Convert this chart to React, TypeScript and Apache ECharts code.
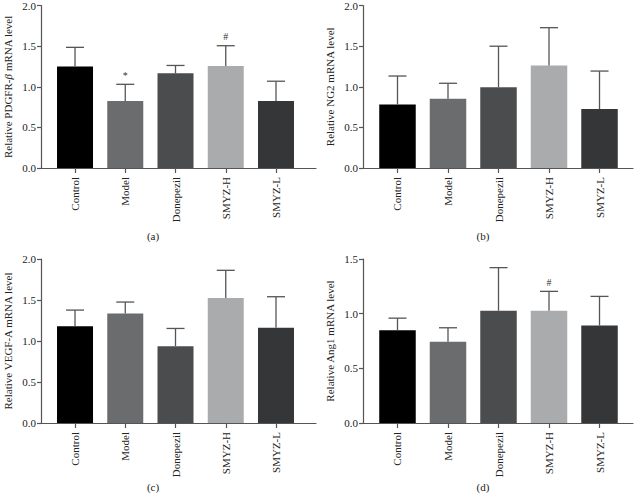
import React, { useEffect, useRef } from "react";
import * as echarts from "echarts";

const categories = ["Control", "Model", "Donepezil", "SMYZ-H", "SMYZ-L"];
const barColors = ["#000000", "#6a6c6e", "#4b4c4e", "#aaabad", "#353638"];

const pdgfrMean = [1.25, 0.825, 1.165, 1.255, 0.825];
const pdgfrTop = [1.485, 1.03, 1.262, 1.505, 1.068];
const pdgfrMarks = ["", "*", "", "#", ""];

const ng2Mean = [0.782, 0.851, 0.994, 1.263, 0.725];
const ng2Top = [1.132, 1.043, 1.499, 1.727, 1.193];
const ng2Marks = ["", "", "", "", ""];

const vegfMean = [1.181, 1.336, 0.937, 1.523, 1.161];
const vegfTop = [1.377, 1.475, 1.153, 1.862, 1.54];
const vegfMarks = ["", "", "", "", ""];

const ang1Mean = [0.849, 0.742, 1.027, 1.027, 0.892];
const ang1Top = [0.959, 0.871, 1.421, 1.204, 1.158];
const ang1Marks = ["", "", "", "#", ""];

const FONT = "Liberation Serif";

type Panel = {
  name: string;
  mean: number[];
  top: number[];
  marks: string[];
  yMax: number;
  grid: { left: number; width: number; top: number; height: number };
  xMin: number;
  xMax: number;
  label: string;
  labelPos: [number, number];
};

const panels: Panel[] = [
  {
    name: "Relative PDGFR-{i|β} mRNA level",
    mean: pdgfrMean,
    top: pdgfrTop,
    marks: pdgfrMarks,
    yMax: 2,
    grid: { left: 41, width: 275, top: 4, height: 164 },
    xMin: -0.677,
    xMax: 4.796,
    label: "(a)",
    labelPos: [153, 236],
  },
  {
    name: "Relative NG2 mRNA level",
    mean: ng2Mean,
    top: ng2Top,
    marks: ng2Marks,
    yMax: 2,
    grid: { left: 363, width: 270, top: 4, height: 164 },
    xMin: -0.683,
    xMax: 4.663,
    label: "(b)",
    labelPos: [483, 236],
  },
  {
    name: "Relative VEGF-A mRNA level",
    mean: vegfMean,
    top: vegfTop,
    marks: vegfMarks,
    yMax: 2,
    grid: { left: 41, width: 275, top: 259, height: 164 },
    xMin: -0.677,
    xMax: 4.796,
    label: "(c)",
    labelPos: [153, 487],
  },
  {
    name: "Relative Ang1 mRNA level",
    mean: ang1Mean,
    top: ang1Top,
    marks: ang1Marks,
    yMax: 1.5,
    grid: { left: 363, width: 270, top: 259, height: 164 },
    xMin: -0.683,
    xMax: 4.663,
    label: "(d)",
    labelPos: [483, 487],
  },
];

export default function App() {
  const ref = useRef<HTMLDivElement>(null);

  useEffect(() => {
    if (!ref.current) return;
    const chart = echarts.init(ref.current, null, { renderer: "svg" });

    const grids: any[] = [];
    const xAxes: any[] = [];
    const yAxes: any[] = [];
    const series: any[] = [];
    const graphics: any[] = [];

    panels.forEach((p, idx) => {
      grids.push({ ...p.grid, containLabel: false });
      const ticks = categories.map((_, i) => i);
      xAxes.push({
        type: "value",
        gridIndex: idx,
        min: p.xMin,
        max: p.xMax,
        splitLine: { show: false },
        axisLine: { show: true, onZero: false, lineStyle: { color: "#555", width: 1.2 } },
        axisTick: {
          show: true,
          customValues: ticks,
          length: 5,
          lineStyle: { color: "#555", width: 1.2 },
        },
        axisLabel: {
          show: true,
          customValues: ticks,
          rotate: 90,
          margin: 9,
          fontFamily: FONT,
          fontSize: 11,
          color: "#222",
          formatter: (v: number) => categories[Math.round(v)] ?? "",
        },
      });
      yAxes.push({
        type: "value",
        gridIndex: idx,
        min: 0,
        max: p.yMax,
        interval: 0.5,
        name: p.name,
        nameLocation: "middle",
        nameGap: 28,
        nameTextStyle: {
          fontFamily: FONT,
          fontSize: 11,
          color: "#222",
          rich: { i: { fontFamily: FONT, fontSize: 11, fontStyle: "italic", color: "#222" } },
        },
        splitLine: { show: false },
        axisLine: { show: true, onZero: false, lineStyle: { color: "#555", width: 1.2 } },
        axisTick: { show: true, length: 4, lineStyle: { color: "#555", width: 1.2 } },
        axisLabel: {
          fontFamily: FONT,
          fontSize: 11,
          color: "#222",
          margin: 5,
          formatter: (v: number) => v.toFixed(1),
        },
      });

      series.push({
        type: "bar",
        xAxisIndex: idx,
        yAxisIndex: idx,
        barWidth: idx % 2 === 0 ? 36 : 36.5,
        data: p.mean.map((v, i) => ({
          value: [i, v],
          itemStyle: { color: barColors[i] },
        })),
        z: 2,
      });

      series.push({
        type: "custom",
        xAxisIndex: idx,
        yAxisIndex: idx,
        z: 3,
        encode: { x: 0, y: [1, 2] },
        data: p.mean.map((v, i) => [i, v, p.top[i], i]),
        renderItem: (params: any, api: any) => {
          const x = api.value(0);
          const m = api.value(1);
          const t = api.value(2);
          const i = api.value(3);
          const b = api.coord([x, m]);
          const tp = api.coord([x, t]);
          const children: any[] = [
            {
              type: "line",
              shape: { x1: b[0], y1: b[1], x2: tp[0], y2: tp[1] },
              style: { stroke: "#555", lineWidth: 1.3 },
            },
            {
              type: "line",
              shape: { x1: tp[0] - 9, y1: tp[1], x2: tp[0] + 9, y2: tp[1] },
              style: { stroke: "#555", lineWidth: 1.3 },
            },
          ];
          const mark = p.marks[i];
          if (mark) {
            children.push({
              type: "text",
              x: tp[0],
              y: tp[1] - 4,
              style: {
                text: mark,
                fontFamily: FONT,
                fontSize: 10,
                fill: "#333",
                align: "center",
                verticalAlign: "bottom",
              },
            });
          }
          return { type: "group", children };
        },
      });

      graphics.push({
        type: "text",
        x: p.labelPos[0],
        y: p.labelPos[1],
        style: {
          text: p.label,
          fontFamily: FONT,
          fontSize: 11,
          fill: "#222",
          align: "center",
          verticalAlign: "middle",
        },
      });
    });

    chart.setOption({
      animation: false,
      backgroundColor: "#ffffff",
      grid: grids,
      xAxis: xAxes,
      yAxis: yAxes,
      series,
      graphic: graphics,
    });

    return () => chart.dispose();
  }, []);

  return (
    <div
      ref={ref}
      style={{ position: "fixed", left: 0, top: 0, width: 634, height: 500 }}
    />
  );
}
